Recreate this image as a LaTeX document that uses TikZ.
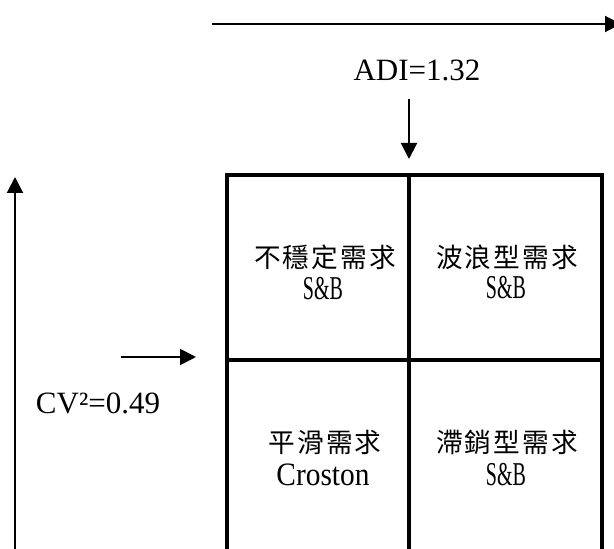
\documentclass[tikz,border=0pt]{standalone}
\usepackage{fontspec}
\setmainfont{Liberation Serif}
\newfontfamily\cjk[LetterSpace=8]{Noto Sans CJK TC}
\newfontfamily\condserif[FakeStretch=0.6]{Liberation Serif}
\newfontfamily\condcro[FakeStretch=0.9]{Liberation Serif}
\usetikzlibrary{arrows.meta}
\begin{document}
\begin{tikzpicture}[x=0.75pt,y=-0.75pt,
  arr/.style={line width=1.5pt,-{Triangle[length=12pt,width=12pt]}},
  gridline/.style={line width=3pt,line join=miter},
  lbl/.style={font=\fontsize{23.25}{28}\selectfont,inner sep=0pt},
  cjkt/.style={font=\cjk\fontsize{20}{24}\selectfont,inner sep=0pt,xshift=0.8pt},
  meth/.style={font=\condserif\fontsize{25}{30}\selectfont,inner sep=0pt},
  methc/.style={font=\condcro\fontsize{24.5}{30}\selectfont,inner sep=0pt}]
\useasboundingbox (0,0) rectangle (614,549);
% axes
\coordinate (topL) at (212,24);
\coordinate (topR) at (621,24);
\draw[arr] (topL) -- (topR);
\coordinate (leftB) at (15,560);
\coordinate (leftT) at (15,177);
\draw[arr] (leftB) -- (leftT);
% labels
\node[lbl] (adi) at (417,70) {ADI=1.32};
\node[lbl] (cv) at (98,403) {CV²=0.49};
\coordinate (downS) at (409,99);
\coordinate (downE) at (409,159);
\draw[arr] (downS) -- (downE);
\coordinate (rightS) at (121,357);
\coordinate (rightE) at (196,357);
\draw[arr] (rightS) -- (rightE);
% grid
\draw[gridline] (227,560) -- (227,175) -- (602,175) -- (602,560);
\draw[gridline] (409,175) -- (409,560);
\draw[gridline] (227,360) -- (602,360);
% cell texts
\node[cjkt] (c1) at (324,257) {不穩定需求};
\node[meth] (m1) at (323,289) {S\&B};
\node[cjkt] (c2) at (506,257) {波浪型需求};
\node[meth] (m2) at (506,288) {S\&B};
\node[cjkt] (c3) at (324,442) {平滑需求};
\node[methc] (m3) at (323,475) {Croston};
\node[cjkt] (c4) at (506,442) {滯銷型需求};
\node[meth] (m4) at (506,475) {S\&B};
\end{tikzpicture}
\end{document}
